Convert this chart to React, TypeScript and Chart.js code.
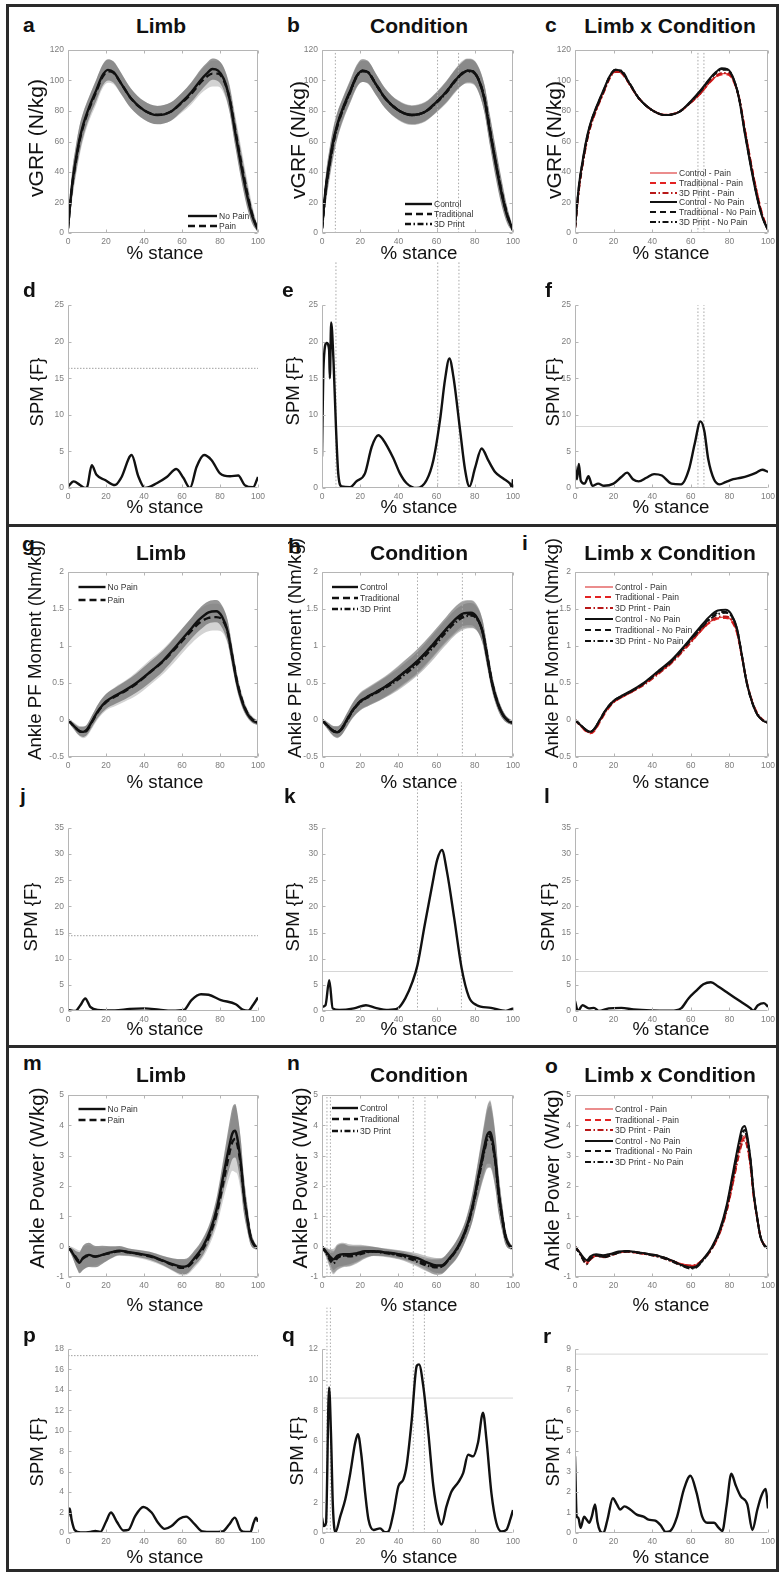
import React, { useEffect, useRef } from "react";
import { Chart, registerables } from "chart.js";
Chart.register(...registerables);

const FONT = '"Liberation Sans", Arial, Helvetica, sans-serif';

// ======================= DATA =======================
// ---- vGRF (N/kg) ----
const VX = [0, 2, 4, 6, 8, 11, 15, 18, 21, 24, 28, 33, 40, 47, 54, 60, 65, 70, 73, 76, 79, 82, 85, 88, 91, 94, 97, 100];
const VGRF_NOPAIN = [3, 30, 47, 61, 71, 82, 94, 103, 107, 105.5, 98, 88.5, 80.5, 77.3, 79.5, 86, 92.5, 100.5, 104.5, 107.5, 106.5, 101, 88, 66, 45, 26, 11, 2];
const VGRF_PAIN = [3, 29, 46, 60, 70, 81, 93, 102, 106, 105, 98, 88.5, 80.5, 77.5, 79.5, 85.5, 91.5, 99, 102.5, 104.5, 104.5, 100, 88.5, 67.5, 47, 28, 12, 2];
const VGRF_NOPAIN_SD = [1.5, 8, 9, 9, 8, 7, 7, 7, 7, 7, 7, 6.5, 6, 6, 6, 6, 6.5, 7, 7, 7, 7, 7.5, 8.5, 9, 9, 8, 5, 1.5];
const VGRF_PAIN_SD = [1.5, 9, 10, 10, 9, 8, 8, 7.5, 7.5, 7.5, 7, 6.5, 6, 6, 6, 6.5, 7, 7.5, 8, 8.5, 8.5, 8.5, 9, 10, 10, 9, 6, 1.5];
const VGRF_CONTROL = [3, 30, 47, 61, 71, 82, 94, 102.5, 106.5, 105.5, 98, 88.5, 80.5, 77.5, 79.5, 86, 92.5, 100.5, 104, 106.5, 106, 100.5, 88, 66, 45, 26, 11, 2];
const VGRF_TRAD = [3, 29, 46, 60, 70.5, 81.5, 93.5, 102.5, 106.5, 105.5, 98, 88.5, 80.5, 77.3, 79.5, 86, 92.5, 100.5, 104.5, 106.5, 106, 100.5, 88.5, 67, 46, 27, 11.5, 2];
const VGRF_3D = [3, 28, 45, 59, 70, 81, 93, 102, 106, 105.5, 98, 88.5, 80.5, 77.3, 79.5, 85.5, 92, 100, 104, 106, 105.5, 100.5, 88.5, 67, 46, 27, 12, 2];
const VGRF_CONTROL_SD = [1.5, 8, 9, 9, 8, 7, 7, 7, 7.5, 7.5, 7, 6.5, 6, 6, 6, 6.5, 7, 7, 7.5, 7.5, 7.5, 8, 9, 9.5, 9.5, 8, 5, 1.5];
const VGRF_TRAD_SD = [1.5, 9, 9.5, 9, 8.5, 7.5, 7.5, 7.5, 7.5, 7.5, 7, 6.5, 6.5, 6.5, 6.5, 6.5, 7, 7.5, 8, 8, 8, 8.5, 9, 10, 9.5, 8.5, 5.5, 1.5];
const VGRF_3D_SD = [1.5, 8.5, 9.5, 9.5, 8.5, 7.5, 7, 7, 7, 7, 7, 6.5, 6, 6, 6, 6.5, 7, 7.5, 7.5, 8, 8, 8, 9, 9.5, 9.5, 8, 5, 1.5];
const VGRF_CP = [3, 28, 46, 60, 70, 81, 93, 102, 106, 105.5, 98, 88.5, 80.5, 77.5, 79.5, 85.5, 91.5, 99, 102.5, 104.5, 104.5, 100, 88.5, 68, 47, 28, 12, 2];
const VGRF_TP = [3, 29, 46, 60, 70, 81, 93, 102, 106, 105, 98, 88.5, 80.5, 77.5, 79.5, 85.5, 91.5, 99, 102.5, 104, 104, 100, 88.5, 68, 47, 28, 12.5, 2];
const VGRF_DP = [3, 28, 45, 59, 69.5, 80.5, 92.5, 101.5, 105.5, 105.5, 98, 88.5, 80.5, 77.3, 79.5, 85.5, 91.5, 99.5, 103, 105, 105, 100.5, 89, 68, 47, 28, 12, 2];
const VGRF_CN = [3, 31, 48, 62, 72, 82.5, 94.5, 103, 107, 106, 98.5, 88.5, 80.5, 77.3, 79.5, 86.5, 93.5, 101.5, 105.5, 108, 107.5, 101.5, 88, 65, 44, 25, 10.5, 2];
const VGRF_TN = [3, 30, 47, 61, 71.5, 82, 94, 103, 107, 106, 98.5, 88.5, 80.5, 77.3, 79.5, 86, 93, 101, 105, 107.5, 107, 101.5, 88.5, 66, 45, 26, 11, 2];
const VGRF_DN = [3, 29, 46, 60, 71, 81.5, 93.5, 102.5, 107, 106.5, 99, 88.5, 80.5, 77.3, 79.5, 86, 93, 101, 105, 107, 107, 101.5, 88.5, 66.5, 45.5, 26, 11, 2];

// ---- Ankle PF Moment (Nm/kg) ----
const MX = [0, 3, 6, 8, 10, 13, 16, 20, 25, 30, 36, 43, 50, 57, 64, 69, 74, 78, 81, 84, 86.5, 89, 92, 94.5, 97, 100];
const MOM_NOPAIN = [0, -0.08, -0.15, -0.16, -0.13, 0, 0.13, 0.25, 0.33, 0.4, 0.5, 0.645, 0.8, 1.0, 1.21, 1.355, 1.455, 1.47, 1.4, 1.2, 0.85, 0.5, 0.22, 0.08, 0, -0.04];
const MOM_PAIN = [0, -0.08, -0.15, -0.165, -0.14, -0.01, 0.12, 0.24, 0.32, 0.39, 0.49, 0.64, 0.79, 0.98, 1.18, 1.31, 1.38, 1.39, 1.36, 1.19, 0.86, 0.52, 0.24, 0.09, 0.01, -0.04];
const MOM_NOPAIN_SD = [0.02, 0.04, 0.06, 0.07, 0.07, 0.08, 0.09, 0.1, 0.11, 0.12, 0.13, 0.14, 0.14, 0.14, 0.14, 0.15, 0.15, 0.15, 0.15, 0.15, 0.13, 0.1, 0.07, 0.05, 0.04, 0.03];
const MOM_PAIN_SD = [0.02, 0.05, 0.07, 0.08, 0.08, 0.09, 0.1, 0.11, 0.13, 0.14, 0.16, 0.17, 0.17, 0.17, 0.17, 0.18, 0.18, 0.18, 0.17, 0.16, 0.14, 0.11, 0.08, 0.06, 0.04, 0.03];
const MOM_CONTROL = [0, -0.08, -0.15, -0.165, -0.13, 0, 0.13, 0.25, 0.33, 0.4, 0.5, 0.645, 0.8, 0.99, 1.2, 1.34, 1.44, 1.45, 1.39, 1.2, 0.85, 0.5, 0.22, 0.08, 0, -0.04];
const MOM_TRAD = [0, -0.08, -0.15, -0.16, -0.13, 0, 0.13, 0.25, 0.33, 0.4, 0.5, 0.64, 0.79, 0.985, 1.19, 1.33, 1.42, 1.43, 1.38, 1.2, 0.86, 0.51, 0.23, 0.08, 0, -0.04];
const MOM_3D = [0, -0.08, -0.15, -0.16, -0.13, -0.01, 0.12, 0.24, 0.32, 0.39, 0.48, 0.61, 0.76, 0.95, 1.16, 1.3, 1.39, 1.41, 1.37, 1.2, 0.86, 0.51, 0.23, 0.08, 0, -0.04];
const MOM_CONTROL_SD = [0.02, 0.05, 0.07, 0.08, 0.08, 0.09, 0.1, 0.11, 0.12, 0.13, 0.14, 0.15, 0.16, 0.16, 0.16, 0.17, 0.17, 0.17, 0.17, 0.16, 0.14, 0.11, 0.08, 0.06, 0.04, 0.03];
const MOM_TRAD_SD = [0.02, 0.05, 0.07, 0.08, 0.08, 0.09, 0.1, 0.12, 0.13, 0.14, 0.15, 0.16, 0.17, 0.17, 0.17, 0.18, 0.18, 0.18, 0.17, 0.16, 0.14, 0.11, 0.08, 0.06, 0.04, 0.03];
const MOM_3D_SD = [0.02, 0.04, 0.06, 0.07, 0.08, 0.09, 0.1, 0.11, 0.12, 0.13, 0.14, 0.15, 0.16, 0.17, 0.17, 0.17, 0.17, 0.17, 0.16, 0.15, 0.13, 0.1, 0.08, 0.06, 0.04, 0.03];
const MOM_CP = [0, -0.08, -0.15, -0.17, -0.14, -0.01, 0.12, 0.24, 0.32, 0.39, 0.49, 0.64, 0.79, 0.98, 1.18, 1.31, 1.38, 1.39, 1.35, 1.18, 0.85, 0.5, 0.23, 0.08, 0, -0.04];
const MOM_TP = [0, -0.08, -0.16, -0.18, -0.15, -0.02, 0.11, 0.24, 0.32, 0.39, 0.49, 0.63, 0.78, 0.97, 1.17, 1.3, 1.37, 1.38, 1.34, 1.17, 0.85, 0.51, 0.23, 0.08, 0, -0.04];
const MOM_DP = [0, -0.08, -0.15, -0.17, -0.14, -0.01, 0.12, 0.24, 0.32, 0.39, 0.48, 0.62, 0.77, 0.96, 1.17, 1.31, 1.39, 1.4, 1.36, 1.19, 0.86, 0.51, 0.24, 0.09, 0.01, -0.04];
const MOM_CN = [0, -0.07, -0.14, -0.16, -0.12, 0.01, 0.14, 0.26, 0.34, 0.41, 0.51, 0.66, 0.81, 1.01, 1.23, 1.38, 1.48, 1.49, 1.43, 1.23, 0.87, 0.5, 0.22, 0.07, 0, -0.04];
const MOM_TN = [0, -0.07, -0.14, -0.16, -0.12, 0.01, 0.14, 0.26, 0.33, 0.4, 0.5, 0.65, 0.8, 1.0, 1.21, 1.35, 1.45, 1.46, 1.41, 1.22, 0.86, 0.5, 0.22, 0.07, 0, -0.04];
const MOM_DN = [0, -0.07, -0.14, -0.16, -0.12, 0, 0.13, 0.25, 0.33, 0.4, 0.5, 0.64, 0.79, 0.99, 1.2, 1.34, 1.43, 1.45, 1.41, 1.22, 0.87, 0.51, 0.23, 0.08, 0, -0.04];

// ---- Ankle Power (W/kg) ----
const PX = [0, 2.5, 5, 6, 8, 11, 14.5, 18, 22.5, 27, 32, 38, 43, 50, 55, 60, 62.5, 66.5, 71, 75, 78.5, 82, 85, 86.5, 88, 89, 91, 92.5, 94.5, 96, 98, 100];
const POW_NOPAIN = [0, -0.22, -0.47, -0.53, -0.36, -0.27, -0.33, -0.27, -0.19, -0.13, -0.18, -0.24, -0.3, -0.46, -0.58, -0.66, -0.64, -0.38, 0, 0.55, 1.3, 2.42, 3.35, 3.73, 3.82, 3.62, 2.74, 1.75, 0.88, 0.33, 0.05, -0.05];
const POW_PAIN = [0, -0.2, -0.42, -0.48, -0.38, -0.3, -0.32, -0.28, -0.2, -0.15, -0.19, -0.25, -0.32, -0.47, -0.6, -0.7, -0.68, -0.45, -0.08, 0.45, 1.15, 2.2, 3.1, 3.45, 3.55, 3.4, 2.65, 1.75, 0.92, 0.37, 0.06, -0.05];
const POW_NOPAIN_SD = [0.02, 0.15, 0.3, 0.35, 0.4, 0.4, 0.35, 0.3, 0.2, 0.15, 0.12, 0.12, 0.13, 0.15, 0.2, 0.25, 0.25, 0.25, 0.28, 0.3, 0.4, 0.55, 0.75, 0.85, 0.88, 0.85, 0.75, 0.6, 0.4, 0.25, 0.12, 0.05];
const POW_PAIN_SD = [0.02, 0.18, 0.32, 0.35, 0.38, 0.35, 0.3, 0.25, 0.2, 0.15, 0.13, 0.14, 0.15, 0.17, 0.2, 0.25, 0.25, 0.25, 0.28, 0.32, 0.42, 0.58, 0.8, 0.95, 1.1, 1.0, 0.85, 0.65, 0.45, 0.28, 0.12, 0.05];
const POW_CONTROL = [0, -0.2, -0.38, -0.42, -0.3, -0.25, -0.25, -0.22, -0.15, -0.15, -0.18, -0.22, -0.28, -0.38, -0.52, -0.62, -0.62, -0.4, -0.02, 0.52, 1.25, 2.35, 3.3, 3.68, 3.78, 3.6, 2.75, 1.78, 0.9, 0.35, 0.05, -0.05];
const POW_TRAD = [0, -0.22, -0.45, -0.5, -0.35, -0.28, -0.3, -0.25, -0.18, -0.15, -0.18, -0.24, -0.3, -0.45, -0.58, -0.66, -0.65, -0.42, -0.04, 0.5, 1.22, 2.3, 3.22, 3.6, 3.7, 3.52, 2.7, 1.75, 0.9, 0.35, 0.05, -0.05];
const POW_3D = [0, -0.25, -0.52, -0.55, -0.38, -0.3, -0.32, -0.28, -0.2, -0.16, -0.2, -0.26, -0.33, -0.5, -0.62, -0.68, -0.66, -0.42, -0.05, 0.48, 1.2, 2.25, 3.15, 3.52, 3.62, 3.45, 2.65, 1.72, 0.9, 0.35, 0.05, -0.05];
const POW_CONTROL_SD = [0.02, 0.15, 0.3, 0.35, 0.38, 0.38, 0.33, 0.28, 0.2, 0.15, 0.13, 0.13, 0.14, 0.16, 0.2, 0.25, 0.25, 0.26, 0.3, 0.33, 0.45, 0.6, 0.82, 0.95, 1.05, 1.0, 0.85, 0.65, 0.42, 0.26, 0.12, 0.05];
const POW_TRAD_SD = [0.02, 0.16, 0.32, 0.36, 0.4, 0.38, 0.33, 0.28, 0.2, 0.15, 0.13, 0.13, 0.15, 0.17, 0.21, 0.26, 0.26, 0.26, 0.3, 0.33, 0.45, 0.62, 0.85, 1.0, 1.08, 1.02, 0.88, 0.66, 0.44, 0.27, 0.12, 0.05];
const POW_3D_SD = [0.02, 0.16, 0.32, 0.36, 0.4, 0.38, 0.33, 0.28, 0.2, 0.15, 0.13, 0.13, 0.14, 0.16, 0.2, 0.25, 0.25, 0.26, 0.3, 0.33, 0.44, 0.6, 0.82, 0.95, 1.02, 0.98, 0.84, 0.64, 0.42, 0.26, 0.12, 0.05];
const POW_CP = [0, -0.2, -0.45, -0.5, -0.38, -0.28, -0.3, -0.26, -0.18, -0.15, -0.18, -0.24, -0.3, -0.44, -0.56, -0.62, -0.6, -0.4, -0.05, 0.5, 1.2, 2.25, 3.2, 3.55, 3.65, 3.48, 2.7, 1.75, 0.9, 0.35, 0.05, -0.05];
const POW_TP = [0, -0.2, -0.5, -0.55, -0.4, -0.3, -0.35, -0.3, -0.2, -0.16, -0.2, -0.25, -0.3, -0.46, -0.58, -0.64, -0.62, -0.42, -0.06, 0.48, 1.18, 2.2, 3.12, 3.48, 3.58, 3.42, 2.65, 1.72, 0.9, 0.35, 0.05, -0.05];
const POW_DP = [0, -0.22, -0.5, -0.56, -0.42, -0.3, -0.33, -0.3, -0.2, -0.17, -0.2, -0.26, -0.32, -0.48, -0.6, -0.62, -0.6, -0.4, -0.06, 0.45, 1.15, 2.15, 3.05, 3.4, 3.5, 3.35, 2.6, 1.7, 0.9, 0.36, 0.06, -0.05];
const POW_CN = [0, -0.2, -0.4, -0.45, -0.32, -0.25, -0.28, -0.24, -0.16, -0.14, -0.18, -0.24, -0.3, -0.45, -0.6, -0.68, -0.66, -0.4, 0, 0.56, 1.35, 2.5, 3.48, 3.88, 3.98, 3.75, 2.85, 1.82, 0.92, 0.35, 0.05, -0.05];
const POW_TN = [0, -0.22, -0.45, -0.5, -0.36, -0.28, -0.35, -0.3, -0.2, -0.15, -0.18, -0.24, -0.3, -0.45, -0.6, -0.7, -0.68, -0.42, -0.02, 0.52, 1.28, 2.4, 3.35, 3.75, 3.85, 3.65, 2.8, 1.8, 0.9, 0.35, 0.05, -0.05];
const POW_DN = [0, -0.24, -0.52, -0.58, -0.4, -0.3, -0.33, -0.28, -0.2, -0.16, -0.2, -0.26, -0.33, -0.48, -0.62, -0.72, -0.7, -0.44, -0.04, 0.5, 1.25, 2.35, 3.3, 3.7, 3.8, 3.6, 2.78, 1.78, 0.9, 0.35, 0.05, -0.05];

// ---- SPM {F} curves ----
const SPM_D_X = [0, 3, 6.3, 9, 10, 12.5, 15, 19.5, 24.7, 28, 33.5, 37, 40.5, 46.7, 52, 57, 60.7, 64.2, 67.7, 71.6, 75.6, 80, 85.3, 89.6, 93, 97.4, 100];
const SPM_D_Y = [0.2, 0.9, 0.4, 0, 0.1, 3.1, 1.8, 1.1, 0.4, 1.4, 4.5, 1.6, 0, 0.65, 1.5, 2.6, 1.4, 0, 2.9, 4.5, 3.8, 2.0, 1.6, 1.7, 0.4, 0.1, 1.5];
const SPM_E_X = [0, 0.7, 2.4, 3.7, 4.1, 4.8, 6, 7.3, 8.5, 10.3, 14.7, 18, 22.5, 26, 29.5, 32, 37.3, 40.8, 44.3, 49.6, 54.8, 58.3, 61.8, 64.4, 66.7, 68.8, 72.3, 74.9, 77.2, 80.1, 83.6, 87, 90.6, 94.9, 98.4, 99.5, 100];
const SPM_E_Y = [4.3, 16, 19.8, 18.9, 15, 22.6, 17.5, 8.4, 2, 0.2, 0.1, 0.9, 2, 5.6, 7.2, 6.6, 4.1, 2, 0.65, 0, 1.1, 3.8, 9.3, 14.8, 17.7, 15.2, 7.9, 2.5, 0.2, 2.7, 5.4, 3.8, 2.2, 1.3, 0.6, 0.1, 1.2];
const SPM_F_X = [0, 1, 2, 3, 5, 7, 9, 12, 15, 20, 24, 27, 30, 33, 37, 41, 45, 50, 55, 59, 62, 65, 67, 69, 72, 75, 78, 82, 86, 90, 94, 97, 100];
const SPM_F_Y = [3.0, 1.2, 3.3, 1.0, 0.6, 1.6, 0.3, 0.6, 0.3, 0.6, 1.5, 2.1, 1.2, 0.9, 1.4, 1.9, 1.7, 0.6, 0.5, 2.5, 6.0, 9.1, 7.8, 4.0, 1.2, 0.5, 0.8, 1.2, 1.4, 1.7, 2.1, 2.5, 2.2];
const SPM_J_X = [0, 3.9, 6.5, 9.1, 11.7, 15.6, 24.7, 32.5, 40.3, 48, 54.5, 61, 65, 70, 74, 80.5, 88.3, 92.2, 94.8, 97.4, 100];
const SPM_J_Y = [0.2, 0, 1.1, 2.4, 0.8, 0.2, 0.1, 0.4, 0.5, 0.25, 0.05, 0.2, 2.1, 3.2, 3.1, 2.1, 1.3, 0.2, 0.05, 1.15, 2.6];
const SPM_K_X = [0, 1.8, 3.8, 5.6, 9, 16.7, 23, 28, 34.6, 39.7, 43.6, 47.4, 50, 53.8, 57.7, 60.3, 62.8, 65.4, 69.2, 73.1, 76.9, 80.8, 88.5, 96.2, 100];
const SPM_K_Y = [0.8, 1.1, 5.9, 0.5, 0.2, 0.5, 1.1, 0.6, 0.2, 0.5, 2.4, 5.6, 8.8, 16.5, 24.1, 28.9, 30.8, 26.7, 17.8, 8.2, 2.7, 1.15, 0.6, 0, 0.5];
const SPM_L_X = [0, 1.5, 3.9, 7.2, 9.8, 12.4, 17.5, 24, 30.4, 39.4, 49.7, 54.9, 58.8, 62.6, 66.5, 70.4, 74.2, 79.4, 85.8, 91, 92.3, 94.8, 97.9, 100];
const SPM_L_Y = [1.9, 0, 1.1, 0.5, 0.6, 0, 0.5, 0.6, 0.3, 0.1, 0.05, 0.5, 2.4, 3.8, 5.1, 5.5, 4.7, 3.4, 1.8, 0.5, 0.05, 1.1, 1.5, 0.8];
const SPM_P_X = [0, 0.9, 1.9, 3.5, 6.6, 11.8, 14.4, 17, 20, 22.6, 25.7, 29.2, 31.8, 35.2, 39.6, 44, 47.4, 50.9, 54.3, 58.7, 62.2, 66.5, 70.8, 76, 81.3, 84.7, 87.8, 90.8, 93.4, 96, 97.7, 99, 100];
const SPM_P_Y = [1.6, 2.4, 1.3, 0.3, 0.05, 0.1, 0.2, 0.1, 1.1, 2.0, 1.1, 0.25, 0.3, 1.6, 2.55, 2.0, 1.0, 0.4, 0.65, 1.4, 1.6, 0.9, 0.15, 0.1, 0.15, 0.8, 1.5, 0.3, 0.1, 0.1, 1.0, 1.5, 1.1];
const SPM_Q_X = [0, 0.9, 2.1, 3.7, 4.7, 5.7, 7, 9.6, 12.2, 14.8, 17.4, 18.8, 20.5, 22.6, 24.3, 27, 30.4, 33, 34.8, 37.4, 40, 42.6, 44.3, 47, 49.6, 50.8, 53, 55.7, 58.3, 60.9, 62.6, 65.2, 67.8, 71.3, 73.9, 76.5, 79.1, 81.7, 84.3, 86.1, 88.7, 91.3, 93.9, 96.5, 98.6, 100];
const SPM_Q_Y = [1.0, 0.45, 0.65, 9.5, 6.5, 1.75, 0.05, 1.1, 2.2, 3.9, 5.9, 6.45, 5.2, 2.6, 0.9, 0.2, 0.3, 0.05, 0.1, 1.3, 3.05, 3.5, 4.4, 7.4, 10.9, 11.0, 9.6, 6.5, 3.05, 1.1, 0.55, 1.75, 2.7, 3.3, 3.9, 5.1, 5.0, 5.9, 7.85, 6.1, 2.6, 0.65, 0.1, 0.2, 0.9, 1.5];
const SPM_R_X = [0, 0.9, 1.7, 2.9, 4.7, 6.1, 7.3, 8.7, 10.4, 11.6, 13, 14.7, 16.8, 19.6, 21.7, 23.4, 25.6, 28.6, 32, 35.5, 38.1, 41.6, 44.2, 47.1, 49.4, 52.9, 56.3, 59.8, 62.9, 65.9, 68.5, 72, 74.5, 76.3, 78.5, 81, 83.2, 85.8, 89.3, 91.9, 94.5, 96.5, 98.8, 100];
const SPM_R_Y = [3.75, 0.8, 0.75, 0.25, 0.8, 0.65, 0.5, 0.8, 1.4, 0.55, 0.1, 0, 0.65, 1.7, 1.4, 1.15, 1.3, 1.15, 0.9, 0.8, 0.65, 0.6, 0.4, 0.05, 0.1, 0.8, 2.1, 2.8, 2.0, 0.8, 0.5, 0.5, 0.25, 0.1, 1.3, 2.9, 2.35, 1.8, 1.4, 0.15, 1.15, 1.8, 2.15, 1.2];

// SPM critical thresholds and significant-region boundaries (% stance)
const THRESH_D = 16.35, THRESH_E = 8.4, THRESH_F = 8.4;
const THRESH_J = 14.4, THRESH_K = 7.55, THRESH_L = 7.55;
const THRESH_P = 17.35, THRESH_Q = 8.8, THRESH_R = 8.75;
const SIG_B = [7, 60.5, 71.5];
const SIG_C = [63.7, 66.8];
const SIG_H = [50, 73.5];
const SIG_N = [2.6, 4.4, 47.8, 53.9];
const SIG_Q = [2.6, 4.4, 47.8, 53.6];

// ======================= STYLE / LAYOUT =======================
type St = { color: string; width: number; dash: number[] };
interface Line extends St { x: number[]; y: number[]; label?: string }
interface Band { x: number[]; mean: number[]; sd: number[]; color: string }
interface Panel {
  id: string; col: number; row: number;
  yMin: number; yMax: number; yStep: number;
  box: boolean; bands: Band[]; lines: Line[];
  hRef?: number; hDotted?: boolean;
  vRefs?: number[]; vTop?: number; topPad?: number;
  legend?: { dx0: number; dx1: number; dy: number[]; items: (St & { label: string })[] };
}

const COL_L = [68, 322, 575];
const COL_W = [190, 191, 193];
const ROW_T = [50, 305, 572, 828, 1095, 1349];
const ROW_H = [183, 183, 185, 183, 182, 184];
const Y_W = 40, X_H = 20, R_PAD = 14;

const K_SOLID: St = { color: "#111", width: 2.4, dash: [] };
const K_DASH: St = { color: "#111", width: 2.4, dash: [7, 4] };
const K_DOT: St = { color: "#111", width: 2.4, dash: [6, 2.5, 1.5, 2.5] };
const K2_SOLID: St = { color: "#111", width: 2, dash: [] };
const K2_DASH: St = { color: "#111", width: 2, dash: [6, 4] };
const K2_DOT: St = { color: "#111", width: 2, dash: [6, 2.5, 1.5, 2.5] };
const R_SOLID: St = { color: "#e05050", width: 1.3, dash: [] };
const R_DASH: St = { color: "#e32222", width: 2, dash: [6, 4] };
const R_DOT: St = { color: "#b81818", width: 2, dash: [6, 2.5, 1.5, 2.5] };
const SPM_ST: St = { color: "#111", width: 2.4, dash: [] };

const BAND_LIGHT = "#d3d3d3";
const BAND_DARK = "rgba(115,115,115,0.74)";
const BAND_COND = "rgba(105,105,105,0.4)";

const L = (x: number[], y: number[], s: St): Line => ({ x, y, ...s });
const LG = (label: string, s: St) => ({ label, ...s });

const LIMB_LEG = [LG("No Pain", K_SOLID), LG("Pain", K_DASH)];
const COND_LEG = [LG("Control", K_SOLID), LG("Traditional", K_DASH), LG("3D Print", K_DOT)];
const LXC_LEG = [
  LG("Control - Pain", R_SOLID), LG("Traditional - Pain", R_DASH), LG("3D Print - Pain", R_DOT),
  LG("Control - No Pain", K2_SOLID), LG("Traditional - No Pain", K2_DASH), LG("3D Print - No Pain", K2_DOT),
];

const PANELS: Panel[] = [
  { id: "a", col: 0, row: 0, yMin: 0, yMax: 120, yStep: 20, box: true,
    bands: [{ x: VX, mean: VGRF_PAIN, sd: VGRF_PAIN_SD, color: BAND_LIGHT }, { x: VX, mean: VGRF_NOPAIN, sd: VGRF_NOPAIN_SD, color: BAND_DARK }],
    lines: [L(VX, VGRF_PAIN, K_DASH), L(VX, VGRF_NOPAIN, K_SOLID)],
    legend: { dx0: 120, dx1: 149, dy: [166, 176], items: LIMB_LEG } },
  { id: "b", col: 1, row: 0, yMin: 0, yMax: 120, yStep: 20, box: true,
    bands: [{ x: VX, mean: VGRF_CONTROL, sd: VGRF_CONTROL_SD, color: BAND_COND }, { x: VX, mean: VGRF_TRAD, sd: VGRF_TRAD_SD, color: BAND_COND }, { x: VX, mean: VGRF_3D, sd: VGRF_3D_SD, color: BAND_COND }],
    lines: [L(VX, VGRF_3D, K_DOT), L(VX, VGRF_TRAD, K_DASH), L(VX, VGRF_CONTROL, K_SOLID)],
    vRefs: SIG_B,
    legend: { dx0: 83, dx1: 110, dy: [154, 164, 174], items: COND_LEG } },
  { id: "c", col: 2, row: 0, yMin: 0, yMax: 120, yStep: 20, box: true, bands: [],
    lines: [L(VX, VGRF_CP, R_SOLID), L(VX, VGRF_TP, R_DASH), L(VX, VGRF_DP, R_DOT), L(VX, VGRF_CN, K2_SOLID), L(VX, VGRF_TN, K2_DASH), L(VX, VGRF_DN, K2_DOT)],
    vRefs: SIG_C,
    legend: { dx0: 75, dx1: 102, dy: [123, 133, 143, 152, 162, 172], items: LXC_LEG } },
  { id: "d", col: 0, row: 1, yMin: 0, yMax: 25, yStep: 5, box: false, bands: [], lines: [L(SPM_D_X, SPM_D_Y, SPM_ST)], hRef: THRESH_D, hDotted: true },
  { id: "e", col: 1, row: 1, yMin: 0, yMax: 25, yStep: 5, box: false, bands: [], lines: [L(SPM_E_X, SPM_E_Y, SPM_ST)], hRef: THRESH_E, vRefs: [7.3, 60.6, 71.7], vTop: 31, topPad: 52 },
  { id: "f", col: 2, row: 1, yMin: 0, yMax: 25, yStep: 5, box: false, bands: [], lines: [L(SPM_F_X, SPM_F_Y, SPM_ST)], hRef: THRESH_F, vRefs: SIG_C },
  { id: "g", col: 0, row: 2, yMin: -0.5, yMax: 2, yStep: 0.5, box: true,
    bands: [{ x: MX, mean: MOM_PAIN, sd: MOM_PAIN_SD, color: BAND_LIGHT }, { x: MX, mean: MOM_NOPAIN, sd: MOM_NOPAIN_SD, color: BAND_DARK }],
    lines: [L(MX, MOM_PAIN, K_DASH), L(MX, MOM_NOPAIN, K_SOLID)],
    legend: { dx0: 10.5, dx1: 37.5, dy: [15, 28], items: LIMB_LEG } },
  { id: "h", col: 1, row: 2, yMin: -0.5, yMax: 2, yStep: 0.5, box: true,
    bands: [{ x: MX, mean: MOM_CONTROL, sd: MOM_CONTROL_SD, color: BAND_COND }, { x: MX, mean: MOM_TRAD, sd: MOM_TRAD_SD, color: BAND_COND }, { x: MX, mean: MOM_3D, sd: MOM_3D_SD, color: BAND_COND }],
    lines: [L(MX, MOM_3D, K_DOT), L(MX, MOM_TRAD, K_DASH), L(MX, MOM_CONTROL, K_SOLID)],
    vRefs: SIG_H,
    legend: { dx0: 10, dx1: 36, dy: [15, 26, 37], items: COND_LEG } },
  { id: "i", col: 2, row: 2, yMin: -0.5, yMax: 2, yStep: 0.5, box: true, bands: [],
    lines: [L(MX, MOM_CP, R_SOLID), L(MX, MOM_TP, R_DASH), L(MX, MOM_DP, R_DOT), L(MX, MOM_CN, K2_SOLID), L(MX, MOM_TN, K2_DASH), L(MX, MOM_DN, K2_DOT)],
    legend: { dx0: 10, dx1: 38, dy: [15, 25, 36, 47, 58, 69], items: LXC_LEG } },
  { id: "j", col: 0, row: 3, yMin: 0, yMax: 35, yStep: 5, box: false, bands: [], lines: [L(SPM_J_X, SPM_J_Y, SPM_ST)], hRef: THRESH_J, hDotted: true },
  { id: "k", col: 1, row: 3, yMin: 0, yMax: 35, yStep: 5, box: false, bands: [], lines: [L(SPM_K_X, SPM_K_Y, SPM_ST)], hRef: THRESH_K, vRefs: [50, 73], vTop: 43.8, topPad: 52 },
  { id: "l", col: 2, row: 3, yMin: 0, yMax: 35, yStep: 5, box: false, bands: [], lines: [L(SPM_L_X, SPM_L_Y, SPM_ST)], hRef: THRESH_L },
  { id: "m", col: 0, row: 4, yMin: -1, yMax: 5, yStep: 1, box: true,
    bands: [{ x: PX, mean: POW_PAIN, sd: POW_PAIN_SD, color: BAND_LIGHT }, { x: PX, mean: POW_NOPAIN, sd: POW_NOPAIN_SD, color: BAND_DARK }],
    lines: [L(PX, POW_PAIN, K_DASH), L(PX, POW_NOPAIN, K_SOLID)],
    legend: { dx0: 10.5, dx1: 37.5, dy: [14, 25], items: LIMB_LEG } },
  { id: "n", col: 1, row: 4, yMin: -1, yMax: 5, yStep: 1, box: true,
    bands: [{ x: PX, mean: POW_CONTROL, sd: POW_CONTROL_SD, color: BAND_COND }, { x: PX, mean: POW_TRAD, sd: POW_TRAD_SD, color: BAND_COND }, { x: PX, mean: POW_3D, sd: POW_3D_SD, color: BAND_COND }],
    lines: [L(PX, POW_3D, K_DOT), L(PX, POW_TRAD, K_DASH), L(PX, POW_CONTROL, K_SOLID)],
    vRefs: SIG_N,
    legend: { dx0: 10, dx1: 36, dy: [13, 24, 36], items: COND_LEG } },
  { id: "o", col: 2, row: 4, yMin: -1, yMax: 5, yStep: 1, box: true, bands: [],
    lines: [L(PX, POW_CP, R_SOLID), L(PX, POW_TP, R_DASH), L(PX, POW_DP, R_DOT), L(PX, POW_CN, K2_SOLID), L(PX, POW_TN, K2_DASH), L(PX, POW_DN, K2_DOT)],
    legend: { dx0: 10, dx1: 38, dy: [14, 25, 35, 46, 56, 67], items: LXC_LEG } },
  { id: "p", col: 0, row: 5, yMin: 0, yMax: 18, yStep: 2, box: false, bands: [], lines: [L(SPM_P_X, SPM_P_Y, SPM_ST)], hRef: THRESH_P, hDotted: true },
  { id: "q", col: 1, row: 5, yMin: 0, yMax: 12, yStep: 2, box: false, bands: [], lines: [L(SPM_Q_X, SPM_Q_Y, SPM_ST)], hRef: THRESH_Q, vRefs: SIG_Q, vTop: 14.7, topPad: 52 },
  { id: "r", col: 2, row: 5, yMin: 0, yMax: 9, yStep: 1, box: false, bands: [], lines: [L(SPM_R_X, SPM_R_Y, SPM_ST)], hRef: THRESH_R },
];

// text placement
const LETTERS: [string, number, number][] = [
  ["a", 23, 32], ["b", 287, 32], ["c", 545, 32],
  ["d", 23, 297], ["e", 282, 297], ["f", 545, 297],
  ["g", 22, 551], ["h", 288, 553], ["i", 522, 550],
  ["j", 20, 803], ["k", 284, 803], ["l", 544, 803],
  ["m", 23, 1070], ["n", 287, 1070], ["o", 545, 1073],
  ["p", 23, 1342], ["q", 282, 1342], ["r", 543, 1343],
];
const COL_TITLES = ["Limb", "Condition", "Limb x Condition"];
const COL_TITLE_X = [161, 419, 670];
const TITLE_BASE = [33, 560, 1082];
const XT_X = [165, 419, 671];
const XT_Y = [253, 507, 782, 1029, 1305, 1557];
const Y_TITLES: [string, number, number, number][] = [
  ["vGRF (N/kg)", 35, 138, 21], ["vGRF (N/kg)", 297, 140, 21], ["vGRF (N/kg)", 553, 140, 21],
  ["SPM {F}", 36.5, 392, 18.5], ["SPM {F}", 293, 391, 18.5], ["SPM {F}", 553, 392, 18.5],
  ["Ankle PF Moment (Nm/kg)", 35, 650, 18.7], ["Ankle PF Moment (Nm/kg)", 295, 648, 18.7], ["Ankle PF Moment (Nm/kg)", 552, 648, 18.7],
  ["SPM {F}", 31, 917, 18.5], ["SPM {F}", 292.5, 917, 18.5], ["SPM {F}", 547.5, 917, 18.5],
  ["Ankle Power (W/kg)", 36.5, 1178, 20.5], ["Ankle Power (W/kg)", 300, 1178, 20.5], ["Ankle Power (W/kg)", 552, 1180, 20.5],
  ["SPM {F}", 36.5, 1452, 18.5], ["SPM {F}", 297, 1451, 18.5], ["SPM {F}", 553, 1452, 18.5],
];

// ======================= CHART =======================
function PanelChart({ p }: { p: Panel }) {
  const ref = useRef<HTMLCanvasElement>(null);
  const topPad = p.topPad ?? 12;
  const pw = COL_W[p.col], ph = ROW_H[p.row];
  const cw = Y_W + pw + R_PAD, ch = topPad + ph + X_H;

  useEffect(() => {
    if (!ref.current) return;
    const ds: any[] = [];
    const base = { pointRadius: 0, pointHoverRadius: 0, pointHitRadius: 0, cubicInterpolationMode: "monotone" };
    p.bands.forEach((b, i) => {
      ds.push({ ...base, data: b.x.map((x, k) => ({ x, y: b.mean[k] - b.sd[k] })), borderColor: "transparent", borderWidth: 0, fill: false, order: 101 - i * 2 });
      ds.push({ ...base, data: b.x.map((x, k) => ({ x, y: b.mean[k] + b.sd[k] })), borderColor: "transparent", borderWidth: 0, fill: "-1", backgroundColor: b.color, order: 100 - i * 2 });
    });
    if (p.hRef !== undefined) {
      ds.push({ ...base, data: [{ x: 0, y: p.hRef }, { x: 100, y: p.hRef }], borderColor: p.hDotted ? "#a0a0a0" : "#d6d6d6", borderWidth: 1, borderDash: p.hDotted ? [1.5, 1.5] : [], fill: false, order: 20 });
    }
    (p.vRefs || []).forEach((vx) => {
      ds.push({ ...base, data: [{ x: vx, y: p.yMin }, { x: vx, y: p.vTop ?? p.yMax }], borderColor: "#a8a8a8", borderWidth: 1, borderDash: [1.5, 2], fill: false, order: 9, clip: false });
    });
    p.lines.forEach((l, i) => {
      ds.push({ ...base, data: l.x.map((x, k) => ({ x, y: l.y[k] })), borderColor: l.color, borderWidth: l.width, borderDash: l.dash, fill: false, order: 5 - i * 0.1 });
    });

    const tickFont = { size: 8.5, family: FONT };
    const framePlugin = {
      id: "frame" + p.id,
      afterDatasetsDraw(chart: any) {
        const { ctx, chartArea: ca, scales } = chart;
        ctx.save();
        ctx.strokeStyle = "#b5b5b5";
        ctx.lineWidth = 1;
        ctx.setLineDash([]);
        const L0 = Math.round(ca.left) + 0.5, R0 = Math.round(ca.right) - 0.5;
        const T0 = Math.round(ca.top) + 0.5, B0 = Math.round(ca.bottom) - 0.5;
        ctx.beginPath();
        ctx.moveTo(L0, T0); ctx.lineTo(L0, B0); ctx.lineTo(R0, B0);
        if (p.box) { ctx.lineTo(R0, T0); ctx.lineTo(L0, T0); }
        ctx.stroke();
        ctx.beginPath();
        scales.x.ticks.forEach((t: any) => {
          const px = Math.round(scales.x.getPixelForValue(t.value)) + 0.5;
          ctx.moveTo(px, B0); ctx.lineTo(px, B0 - 3);
          if (p.box) { ctx.moveTo(px, T0); ctx.lineTo(px, T0 + 3); }
        });
        scales.y.ticks.forEach((t: any) => {
          const py = Math.round(scales.y.getPixelForValue(t.value)) + 0.5;
          ctx.moveTo(L0, py); ctx.lineTo(L0 + 3, py);
          if (p.box) { ctx.moveTo(R0, py); ctx.lineTo(R0 - 3, py); }
        });
        ctx.stroke();
        ctx.restore();
      },
      afterDraw(chart: any) {
        const lg = p.legend;
        if (!lg) return;
        const { ctx, chartArea: ca } = chart;
        ctx.save();
        ctx.font = `8.5px ${FONT}`;
        ctx.textBaseline = "middle";
        ctx.fillStyle = "#333";
        lg.items.forEach((it, i) => {
          const y = ca.top + lg.dy[i];
          ctx.strokeStyle = it.color;
          ctx.lineWidth = it.width;
          ctx.setLineDash(it.dash);
          ctx.beginPath();
          ctx.moveTo(ca.left + lg.dx0, y);
          ctx.lineTo(ca.left + lg.dx1, y);
          ctx.stroke();
          ctx.setLineDash([]);
          ctx.fillText(it.label, ca.left + lg.dx1 + 2, y + 0.5);
        });
        ctx.restore();
      },
    };

    const chart = new Chart(ref.current, {
      type: "line",
      data: { datasets: ds },
      options: {
        animation: false,
        responsive: false,
        maintainAspectRatio: false,
        events: [],
        layout: { padding: { top: topPad, right: R_PAD, left: 0, bottom: 0 } },
        plugins: { legend: { display: false }, tooltip: { enabled: false }, title: { display: false } },
        scales: {
          x: {
            type: "linear", min: 0, max: 100,
            grid: { display: false, drawTicks: false }, border: { display: false },
            ticks: { stepSize: 20, font: tickFont, color: "#7d7d7d", padding: 4, maxRotation: 0, autoSkip: false },
            afterFit: (s: any) => { s.height = X_H; },
          },
          y: {
            type: "linear", min: p.yMin, max: p.yMax,
            grid: { display: false, drawTicks: false }, border: { display: false },
            ticks: { stepSize: p.yStep, font: tickFont, color: "#7d7d7d", padding: 4, autoSkip: false,
              callback: (v: any) => String(Math.round(Number(v) * 100) / 100) },
            afterFit: (s: any) => { s.width = Y_W; },
          },
        },
      } as any,
      plugins: [framePlugin],
    });
    return () => chart.destroy();
  }, []);

  return (
    <canvas
      ref={ref}
      width={cw}
      height={ch}
      style={{ position: "absolute", left: COL_L[p.col] - Y_W, top: ROW_T[p.row] - topPad, width: cw, height: ch }}
    />
  );
}

function BaseText({ x, base, size, bold, center, children }: any) {
  return (
    <div
      style={{
        position: "absolute", left: x, top: base - size * 0.8465, fontSize: size, lineHeight: `${size}px`,
        fontWeight: bold ? 700 : 400, whiteSpace: "nowrap", transform: center ? "translateX(-50%)" : undefined,
      }}
    >
      {children}
    </div>
  );
}

export default function App() {
  const rule = (l: number, t: number, w: number, h: number, key: string) => (
    <div key={key} style={{ position: "absolute", left: l, top: t, width: w, height: h, background: "#2a2a2a" }} />
  );
  return (
    <div style={{ position: "absolute", left: 0, top: 0, width: 779, height: 1572, background: "#fff", overflow: "hidden", fontFamily: FONT, color: "#111" }}>
      {rule(6, 4, 773, 2.5, "top")}
      {rule(6, 4, 3, 1568, "left")}
      {rule(776, 4, 3, 1568, "right")}
      {rule(6, 1569, 773, 3, "bottom")}
      {rule(6, 524, 773, 3, "sep1")}
      {rule(6, 1045, 773, 3, "sep2")}

      {PANELS.map((p) => <PanelChart key={p.id} p={p} />)}

      {LETTERS.map(([t, x, b]) => (
        <BaseText key={"L" + t} x={x} base={b} size={21} bold>{t}</BaseText>
      ))}
      {TITLE_BASE.map((b, r) =>
        COL_TITLES.map((t, c) => (
          <BaseText key={"T" + r + c} x={COL_TITLE_X[c]} base={b} size={21} bold center>{t}</BaseText>
        ))
      )}
      {XT_Y.map((y, r) =>
        XT_X.map((x, c) => (
          <div key={"X" + r + c} style={{ position: "absolute", left: x, top: y, fontSize: 18.7, lineHeight: 1, whiteSpace: "nowrap", transform: "translate(-50%,-50%)" }}>
            % stance
          </div>
        ))
      )}
      {Y_TITLES.map(([t, x, y, s], i) => (
        <div key={"Y" + i} style={{ position: "absolute", left: x, top: y, fontSize: s, lineHeight: 1, whiteSpace: "nowrap", transform: "translate(-50%,-50%) rotate(-90deg)" }}>
          {t}
        </div>
      ))}
    </div>
  );
}
